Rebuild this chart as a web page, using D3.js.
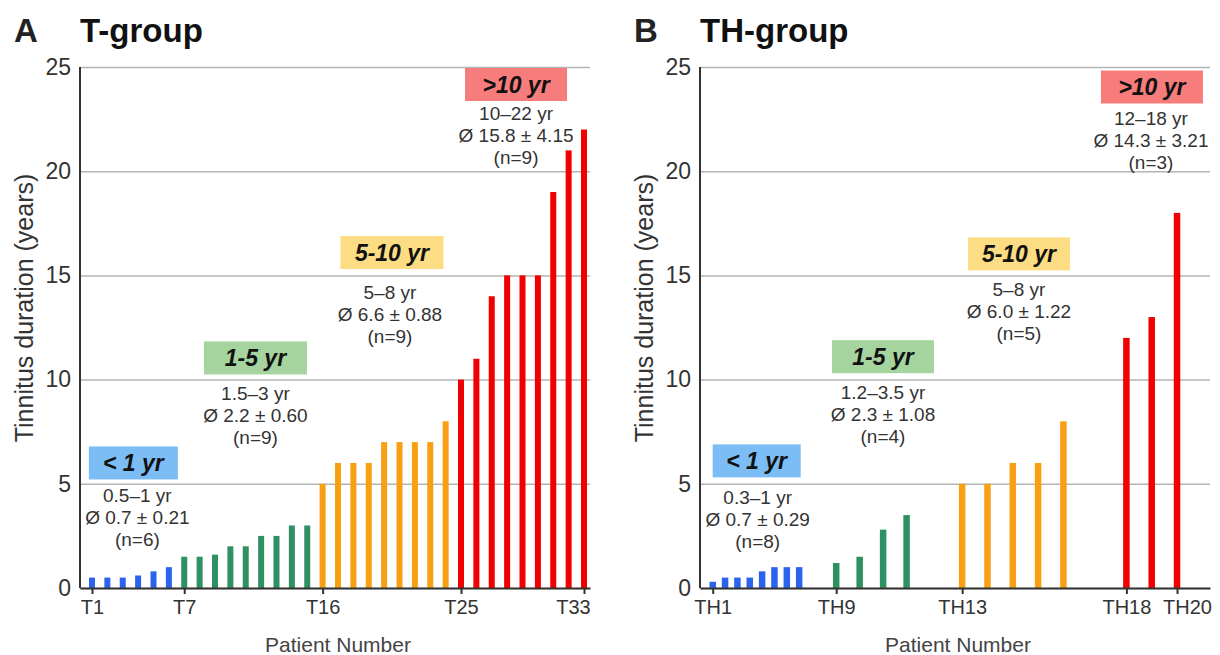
<!DOCTYPE html>
<html>
<head>
<meta charset="utf-8">
<script src="https://cdn.jsdelivr.net/npm/d3@7"></script>
<style>
  body { margin: 0; background: #fff; }
  svg { display: block; font-family: "Liberation Sans", Arial, sans-serif; }
</style>
</head>
<body>
<svg id="chart" width="1220" height="655"></svg>
<script>
// ---- T-group: tinnitus duration per patient (years) ----
const tPatients = d3.range(1, 34).map(i => "T" + i);
const tDurations = [
  0.5, 0.5, 0.5, 0.6, 0.8, 1.0,
  1.5, 1.5, 1.6, 2, 2, 2.5, 2.5, 3, 3,
  5, 6, 6, 6, 7, 7, 7, 7, 8,
  10, 11, 14, 15, 15, 15, 19, 21, 22
];
const tSlots = d3.range(1, 34);              // patient position along the axis
const tGroupSizes = [6, 9, 9, 9];
const tTickLabels = ["T1", "T7", "T16", "T25", "T33"];
const tRanges = ["0.5–1 yr", "1.5–3 yr", "5–8 yr", "10–22 yr"];
const tMeans = ["Ø 0.7 ± 0.21", "Ø 2.2 ± 0.60", "Ø 6.6 ± 0.88", "Ø 15.8 ± 4.15"];
const tCounts = ["(n=6)", "(n=9)", "(n=9)", "(n=9)"];

// ---- TH-group ----
const thPatients = d3.range(1, 21).map(i => "TH" + i);
const thDurations = [
  0.3, 0.5, 0.5, 0.5, 0.8, 1, 1, 1,
  1.2, 1.5, 2.8, 3.5,
  5, 5, 6, 6, 8,
  12, 13, 18
];
const thSlots = [
  0, 1, 2, 3, 4, 5, 6, 7,
  10, 11.9, 13.8, 15.7,
  20.2, 22.25, 24.3, 26.35, 28.4,
  33.5, 35.55, 37.6
];
const thGroupSizes = [8, 4, 5, 3];
const thTickLabels = ["TH1", "TH9", "TH13", "TH18", "TH20"];
const thRanges = ["0.3–1 yr", "1.2–3.5 yr", "5–8 yr", "12–18 yr"];
const thMeans = ["Ø 0.7 ± 0.29", "Ø 2.3 ± 1.08", "Ø 6.0 ± 1.22", "Ø 14.3 ± 3.21"];
const thCounts = ["(n=8)", "(n=4)", "(n=5)", "(n=3)"];

// ---- shared ----
const groupLabels = ["< 1 yr", "1-5 yr", "5-10 yr", ">10 yr"];
const yTicks = [0, 5, 10, 15, 20, 25];

const barColors = ["#2c63ec", "#2f9162", "#f99f13", "#f00000"];
const boxColors = ["#7bbdf4", "#a6d49f", "#fcdd83", "#f77c7c"];

// expand group sizes into a group index per patient
function groupIndex(sizes) {
  return sizes.flatMap((n, g) => d3.range(n).map(() => g));
}

const panels = [
  {
    dx: 0, letter: "A", title: "T-group",
    patients: tPatients, values: tDurations, slots: tSlots, groups: groupIndex(tGroupSizes),
    tickLabels: tTickLabels, ranges: tRanges, means: tMeans, counts: tCounts,
    xDomain: [0.22, 33.39], barWidth: 6,
    tickShift: [0, 0, 0, 0, -11],
    box: [[3.69, 6.0], [11.63, 11.04], [20.51, 16.1], [28.58, 24.16]],
    boxW: [89, 103, 103, 102],
    textDx: [4, 0, -2, 0],
    textDy: [32, 35, 40, 29]
  },
  {
    dx: 620, letter: "B", title: "TH-group",
    patients: thPatients, values: thDurations, slots: thSlots, groups: groupIndex(thGroupSizes),
    tickLabels: thTickLabels, ranges: thRanges, means: thMeans, counts: thCounts,
    xDomain: [-1.03, 40.27], barWidth: 6.5,
    tickShift: [0, 0, 0, 0, 10],
    box: [[3.56, 6.1], [13.79, 11.1], [24.8, 16.03], [35.57, 24.04]],
    boxW: [88, 102, 102, 102],
    textDx: [1, 0, 0, -1],
    textDy: [36, 35, 35, 31]
  }
];

const svg = d3.select("#chart");
const plotTop = 67, plotBottom = 588, plotW = 510;
const y = d3.scaleLinear().domain([0, 25]).range([plotBottom, plotTop]);

panels.forEach(p => {
  const left = 80 + p.dx, right = left + plotW;
  const x = d3.scaleLinear().domain(p.xDomain).range([left, right]);
  const g = svg.append("g");

  // panel letter and title
  g.append("text").attr("x", 14 + p.dx).attr("y", 42)
    .attr("font-size", 33).attr("font-weight", "bold").attr("fill", "#222").text(p.letter);
  g.append("text").attr("x", 80 + p.dx).attr("y", 42)
    .attr("font-size", 33).attr("font-weight", "bold").attr("fill", "#111").text(p.title);

  // y axis with gridlines
  const yAxis = g.append("g").attr("transform", `translate(${left},0)`)
    .call(d3.axisLeft(y).tickValues(yTicks).tickSize(-plotW).tickPadding(9));
  yAxis.select(".domain").remove();
  yAxis.selectAll(".tick line").attr("stroke", "#b4b4b4").attr("stroke-width", 1.5);
  yAxis.selectAll(".tick text").attr("font-size", 23).attr("fill", "#333")
    .attr("font-family", "Liberation Sans, Arial, sans-serif");

  // bars
  g.append("g").selectAll("rect").data(p.values).join("rect")
    .attr("x", (d, i) => x(p.slots[i]) - p.barWidth / 2)
    .attr("width", p.barWidth)
    .attr("y", d => y(d))
    .attr("height", d => y(0) - y(d))
    .attr("fill", (d, i) => barColors[p.groups[i]]);

  // x axis
  const tickIdx = p.tickLabels.map(l => p.patients.indexOf(l));
  const xAxis = g.append("g").attr("transform", `translate(0,${plotBottom})`)
    .call(d3.axisBottom(x)
      .tickValues(tickIdx.map(i => p.slots[i]))
      .tickFormat((d, i) => p.tickLabels[i])
      .tickSizeInner(6).tickSizeOuter(0).tickPadding(6));
  xAxis.select(".domain").attr("stroke", "#333").attr("stroke-width", 2);
  xAxis.selectAll(".tick line").attr("stroke", "#333").attr("stroke-width", 2);
  xAxis.selectAll(".tick text").attr("font-size", 20).attr("fill", "#333")
    .attr("font-family", "Liberation Sans, Arial, sans-serif")
    .attr("dx", (d, i) => p.tickShift[i]);

  // y axis line
  g.append("line").attr("x1", left).attr("x2", left).attr("y1", plotTop).attr("y2", plotBottom)
    .attr("stroke", "#333").attr("stroke-width", 2);

  // axis titles
  g.append("text").attr("transform", `translate(${33 + p.dx},${308}) rotate(-90)`)
    .attr("text-anchor", "middle").attr("font-size", 25).attr("fill", "#333")
    .text("Tinnitus duration (years)");
  g.append("text").attr("x", (left + right) / 2 + 3).attr("y", 652)
    .attr("text-anchor", "middle").attr("font-size", 21).attr("fill", "#444")
    .text("Patient Number");

  // duration-class labels with summary statistics
  groupLabels.forEach((lab, k) => {
    const cx = x(p.box[k][0]), cy = y(p.box[k][1]);
    const w = p.boxW[k], h = 33;
    g.append("rect").attr("x", cx - w / 2).attr("y", cy - h / 2)
      .attr("width", w).attr("height", h).attr("fill", boxColors[k]);
    g.append("text").attr("x", cx).attr("y", cy).attr("dy", "0.36em")
      .attr("text-anchor", "middle").attr("font-size", 23)
      .attr("font-weight", "bold").attr("font-style", "italic").attr("fill", "#111")
      .text(lab);
    const lines = [p.ranges[k], p.means[k], p.counts[k]];
    g.append("g").selectAll("text").data(lines).join("text")
      .attr("x", cx + p.textDx[k])
      .attr("y", (d, j) => cy + p.textDy[k] + j * 22)
      .attr("dy", "0.36em")
      .attr("text-anchor", "middle").attr("font-size", 19).attr("fill", "#333")
      .text(d => d);
  });
});
</script>
</body>
</html>
